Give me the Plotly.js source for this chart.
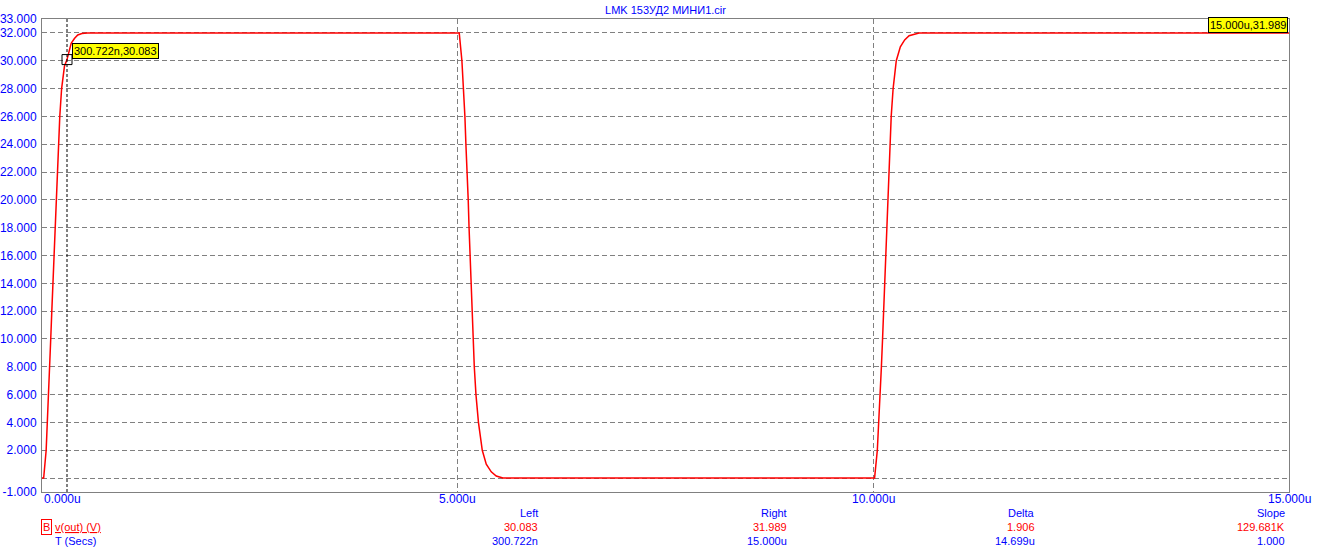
<!DOCTYPE html>
<html>
<head>
<meta charset="utf-8">
<script src="https://cdn.plot.ly/plotly-3.0.1.min.js"></script>
<style>html,body{margin:0;padding:0;background:#fff;}#chart{width:1318px;height:559px;}</style>
</head>
<body>
<div id="chart"></div>
<script>
// ---- data (time in microseconds, voltage in volts) ----
const timeUs = [
  0, 0.02, 0.05, 0.066, 0.079, 0.092, 0.105, 0.118, 0.131, 0.143, 0.155, 0.168, 0.182, 0.197, 0.214, 0.236, 0.27, 0.3007, 0.351, 0.39, 0.43, 0.48, 0.55,
  5.0, 5.019, 5.051, 5.071, 5.087, 5.099, 5.115, 5.127, 5.137, 5.148, 5.159, 5.169, 5.183, 5.2, 5.22, 5.25, 5.296, 5.344, 5.404, 5.464, 5.544,
  10.0, 10.015, 10.048, 10.066, 10.082, 10.097, 10.111, 10.124, 10.136, 10.148, 10.159, 10.171, 10.184, 10.198, 10.215, 10.238, 10.276, 10.325, 10.377, 10.43, 10.55,
  15.0
];
const vOut = [
  0, 0, 2, 4, 6, 8, 10, 12, 14, 16, 18, 20, 22, 24, 26, 28, 29.6, 30.083, 31.26, 31.6, 31.85, 31.96, 31.989,
  31.989, 31.989, 30, 28, 26, 24, 22, 20, 18, 16, 14, 12, 10, 8, 6, 4, 2, 1, 0.45, 0.15, 0,
  0, 0, 2, 4, 6, 8, 10, 12, 14, 16, 18, 20, 22, 24, 26, 28, 30, 31, 31.5, 31.8, 31.989,
  31.989
];
const cursorLeftT = 0.3007, cursorLeftV = 30.083;
const cursorRightT = 15.0, cursorRightV = 31.989;
const cursorLeftLabel = "300.722n,30.083";
const cursorRightLabel = "15.000u,31.989";
const xTickVals = [0, 5, 10, 15];
const xTickText = ["0.000u", "5.000u", "10.000u", "15.000u"];
const yTickVals = [-1, 0, 2, 4, 6, 8, 10, 12, 14, 16, 18, 20, 22, 24, 26, 28, 30, 32, 33];
const tableHeaders = ["Left", "Right", "Delta", "Slope"];
const tableRowV = ["30.083", "31.989", "1.906", "129.681K"];
const tableRowT = ["300.722n", "15.000u", "14.699u", "1.000"];
const chartTitle = "LMK 153УД2 МИНИ1.cir";

// ---- styling / layout ----
const W = 1318, H = 559;
const M = {l: 42, r: 29, t: 19, b: 67};
const PW = W - M.l - M.r, PH = H - M.t - M.b;
const px2paperX = px => (px - M.l) / PW;
const px2paperY = py => (H - M.b - py) / PH;
const BLUE = "#0000ff", RED = "#ff0000", GRID = "#808080";
const FONT = "Liberation Sans, Arial, sans-serif";

const yTickText = yTickVals.map(v => v === 0 ? "" : v.toFixed(3));

const annotations = [];
// x tick labels
xTickVals.forEach((v, i) => {
  annotations.push({
    x: v, xref: "x", y: px2paperY(499), yref: "paper",
    text: xTickText[i], showarrow: false,
    xanchor: i === 0 ? "left" : "center", yanchor: "middle",
    font: {family: FONT, size: 12, color: BLUE}
  });
});
// cursor value boxes
annotations.push({
  x: cursorLeftT, y: cursorLeftV, xref: "x", yref: "y",
  text: cursorLeftLabel, showarrow: false, xanchor: "left", yanchor: "bottom",
  xshift: 5, yshift: 1,
  bgcolor: "#ffff00", bordercolor: "#000000", borderwidth: 1, borderpad: 1,
  font: {family: FONT, size: 11, color: "#000000"}
});
annotations.push({
  x: cursorRightT, y: cursorRightV, xref: "x", yref: "y",
  text: cursorRightLabel, showarrow: false, xanchor: "right", yanchor: "bottom",
  xshift: -1, yshift: 0,
  bgcolor: "#ffff00", bordercolor: "#000000", borderwidth: 1, borderpad: 1,
  font: {family: FONT, size: 11, color: "#000000"}
});
// bottom table
const colRight = [540, 789, 1037, 1287];
tableHeaders.forEach((h, i) => {
  annotations.push({x: px2paperX(colRight[i]), y: px2paperY(513), xref: "paper", yref: "paper",
    text: h, showarrow: false, xanchor: "right", yanchor: "middle",
    font: {family: FONT, size: 11, color: BLUE}});
  annotations.push({x: px2paperX(colRight[i]), y: px2paperY(527), xref: "paper", yref: "paper",
    text: tableRowV[i], showarrow: false, xanchor: "right", yanchor: "middle",
    font: {family: FONT, size: 11, color: RED}});
  annotations.push({x: px2paperX(colRight[i]), y: px2paperY(541), xref: "paper", yref: "paper",
    text: tableRowT[i], showarrow: false, xanchor: "right", yanchor: "middle",
    font: {family: FONT, size: 11, color: BLUE}});
});
annotations.push({x: px2paperX(41), y: px2paperY(527), xref: "paper", yref: "paper",
  text: "B", showarrow: false, xanchor: "left", yanchor: "middle",
  bordercolor: RED, borderwidth: 1, borderpad: 1,
  font: {family: FONT, size: 11, color: RED}});
annotations.push({x: px2paperX(53), y: px2paperY(527), xref: "paper", yref: "paper",
  text: "<u>v(out) (V)</u>", showarrow: false, xanchor: "left", yanchor: "middle",
  font: {family: FONT, size: 11, color: RED}});
annotations.push({x: px2paperX(53), y: px2paperY(541), xref: "paper", yref: "paper",
  text: "T (Secs)", showarrow: false, xanchor: "left", yanchor: "middle",
  font: {family: FONT, size: 11, color: BLUE}});

const traces = [
  {x: timeUs, y: vOut, type: "scatter", mode: "lines",
   line: {color: RED, width: 1.5}, hoverinfo: "skip", showlegend: false},
  {x: [cursorLeftT], y: [cursorLeftV], type: "scatter", mode: "markers",
   marker: {symbol: "square-open", size: 10, color: "#000000", line: {width: 1, color: "#000000"}},
   hoverinfo: "skip", showlegend: false}
];

const layout = {
  width: W, height: H,
  margin: M,
  paper_bgcolor: "#ffffff", plot_bgcolor: "#ffffff",
  showlegend: false,
  title: {text: chartTitle, x: 0.5, xanchor: "center", xref: "paper",
          y: 1 - 10 / H, yanchor: "middle",
          font: {family: FONT, size: 11, color: BLUE}},
  xaxis: {
    range: [0, 15], tickvals: xTickVals, showticklabels: false,
    showgrid: true, gridcolor: GRID, gridwidth: 1, griddash: "5px,3px",
    zeroline: false, showline: true, linecolor: GRID, linewidth: 1, mirror: true,
    ticks: "", fixedrange: true
  },
  yaxis: {
    range: [-1, 33], tickvals: yTickVals, ticktext: yTickText,
    showgrid: true, gridcolor: GRID, gridwidth: 1, griddash: "5px,3px",
    zeroline: false, showline: true, linecolor: GRID, linewidth: 1, mirror: true,
    ticks: "", ticklabelstandoff: 2,
    tickfont: {family: FONT, size: 12, color: BLUE}, fixedrange: true
  },
  shapes: [
    {type: "line", xref: "x", yref: "paper", x0: cursorLeftT, x1: cursorLeftT, y0: 0, y1: 1,
     line: {color: "#000000", width: 1, dash: "3px,2px"}, layer: "above"}
  ],
  annotations: annotations
};

Plotly.newPlot("chart", traces, layout, {staticPlot: true, displayModeBar: false});
</script>
</body>
</html>
